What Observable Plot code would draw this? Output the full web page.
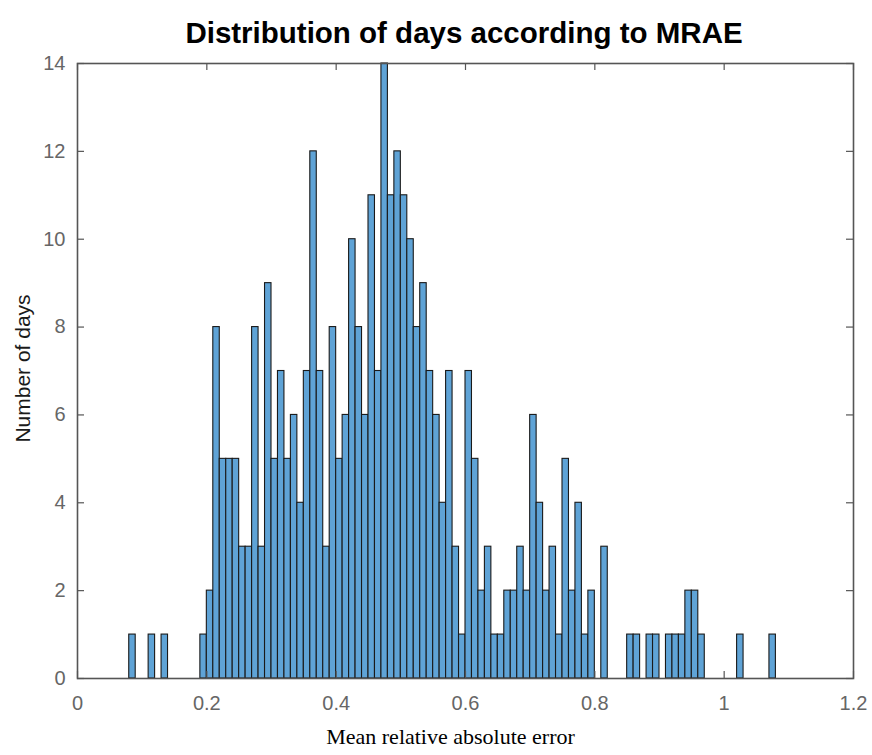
<!DOCTYPE html>
<html>
<head>
<meta charset="utf-8">
<script src="https://cdn.jsdelivr.net/npm/d3@7"></script>
<script src="https://cdn.jsdelivr.net/npm/@observablehq/plot@0.6"></script>
<style>
  html, body { margin: 0; padding: 0; background: #fff; }
</style>
</head>
<body>
<div id="chart"></div>
<script>
// Data (bin width 0.01, first bin starts at 0.08)
const binStart = 0.08;
const binWidth = 0.01;
const counts = [
  1, 0, 0, 1, 0, 1, 0, 0, 0, 0, 0,          // 0.08 – 0.18
  1, 2, 8, 5, 5, 5, 3, 3, 8, 3,             // 0.19 – 0.28
  9, 5, 7, 5, 6, 4, 7, 12, 7, 3,            // 0.29 – 0.38
  8, 5, 6, 10, 8, 6, 11, 7, 14, 11,         // 0.39 – 0.48
  12, 11, 10, 8, 9, 7, 6, 4, 7, 3,          // 0.49 – 0.58
  1, 7, 5, 2, 3, 1, 1, 2, 2, 3,             // 0.59 – 0.68
  2, 6, 4, 2, 3, 1, 5, 2, 4, 1,             // 0.69 – 0.78
  2, 0, 3, 0, 0, 0, 1, 1, 0, 1,             // 0.79 – 0.88
  1, 0, 1, 1, 1, 2, 2, 1, 0, 0,             // 0.89 – 0.98
  0, 0, 0, 1, 0, 0, 0, 0, 1                 // 0.99 – 1.07
];
const xTicks = [0, 0.2, 0.4, 0.6, 0.8, 1, 1.2];
const yTicks = [0, 2, 4, 6, 8, 10, 12, 14];
const titleText = "Distribution of days according to MRAE";
const xLabel = "Mean relative absolute error";
const yLabel = "Number of days";

const bins = counts
  .map((c, i) => ({x0: +(binStart + i * binWidth).toFixed(2), x1: +(binStart + (i + 1) * binWidth).toFixed(2), count: c}))
  .filter(d => d.count > 0);

const W = 872, H = 755;
const mL = 77, mR = 19, mT = 63, mB = 77;
const fw = W - mL - mR, fh = H - mT - mB;
const tick = 7;
const axisGray = "#555";

const chart = Plot.plot({
  width: W,
  height: H,
  marginLeft: mL,
  marginRight: mR,
  marginTop: mT,
  marginBottom: mB,
  style: {fontFamily: "'Liberation Sans', Arial, sans-serif", background: "#fff"},
  x: {domain: [0, 1.2]},
  y: {domain: [0, 14]},
  marks: [
    Plot.rectY(bins, {x1: "x0", x2: "x1", y: "count", fill: "#5fa3d6", stroke: "#1a1a1a", strokeWidth: 1.1}),
    // inward ticks on all four sides
    Plot.tickX(xTicks, {x: d => d, insetTop: fh - tick, stroke: axisGray, strokeWidth: 1.2}),
    Plot.tickX(xTicks, {x: d => d, insetBottom: fh - tick, stroke: axisGray, strokeWidth: 1.2}),
    Plot.tickY(yTicks, {y: d => d, insetRight: fw - tick, stroke: axisGray, strokeWidth: 1.2}),
    Plot.tickY(yTicks, {y: d => d, insetLeft: fw - tick, stroke: axisGray, strokeWidth: 1.2}),
    Plot.frame({stroke: axisGray, strokeWidth: 1.6}),
    Plot.axisX({ticks: xTicks, tickSize: 0, tickPadding: 17, tickFormat: d => String(d), fontSize: 20, fill: "#666", label: null}),
    Plot.axisY({ticks: yTicks, tickSize: 0, tickPadding: 12, tickFormat: d => String(d), fontSize: 20, fill: "#666", label: null}),
    Plot.text([titleText], {frameAnchor: "top", textAnchor: "middle", dx: -1.5, dy: -41.5, fontSize: 29.5, fontWeight: "bold", fill: "#000"}),
    Plot.text([yLabel], {frameAnchor: "left", textAnchor: "middle", dx: -54, dy: -2.5, rotate: -90, fontSize: 21, fill: "#1a1a1a"}),
    Plot.text([xLabel], {frameAnchor: "bottom", textAnchor: "middle", dx: -15, dy: 65, fontSize: 22, fill: "#000", fontFamily: "'Liberation Serif', 'Times New Roman', serif"})
  ]
});
document.getElementById("chart").appendChild(chart);
</script>
</body>
</html>
